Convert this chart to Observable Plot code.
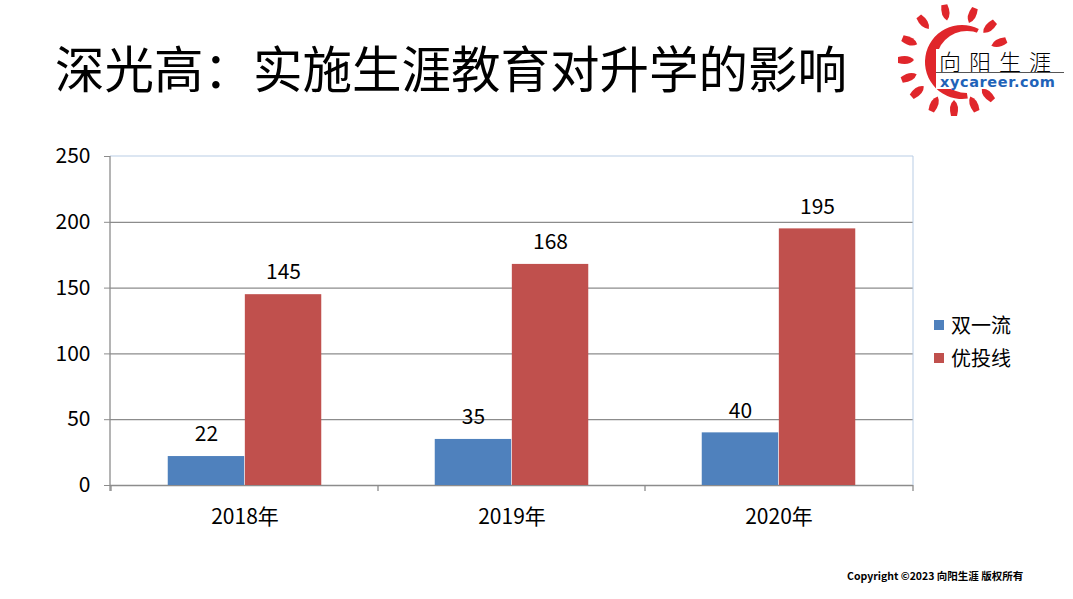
<!DOCTYPE html>
<html><head><meta charset="utf-8">
<script src="https://cdn.jsdelivr.net/npm/d3@7"></script>
<script src="https://cdn.jsdelivr.net/npm/@observablehq/plot@0.6"></script>
<style>
html,body{margin:0;padding:0;background:#fff;}
body{width:1073px;height:599px;overflow:hidden;position:relative;font-family:"Noto Sans CJK SC","Noto Sans",sans-serif;color:#000;}
#title{position:absolute;left:55px;top:42px;font-size:49.5px;line-height:49.5px;white-space:nowrap;}
#logo{position:absolute;left:0;top:0;}
#chart{position:absolute;left:0;top:140px;}
#legend{position:absolute;left:934px;top:308px;font-size:20px;line-height:33px;}
#legend .row{display:flex;align-items:center;}
#legend .sw{width:10px;height:10px;margin-right:7px;}
#copy{position:absolute;left:847px;top:569px;font-size:10.5px;line-height:14px;font-weight:bold;white-space:nowrap;}
</style></head>
<body>
<div id="title">深光高：实施生涯教育对升学的影响</div>
<svg id="logo" width="1073" height="120"></svg>
<div id="chart"></div>
<div id="legend"></div>
<div id="copy">Copyright ©2023 向阳生涯 版权所有</div>
<script>
const years = ["2018年", "2019年", "2020年"];
const seriesNames = ["双一流", "优投线"];
const shuangyiliu = [22, 35, 40];
const youtouxian = [145, 168, 195];
const yTicks = [0, 50, 100, 150, 200, 250];
const gridTicks = [0, 50, 100, 150, 200];
const colors = ["#4F81BD", "#C0504D"];

const data = years.flatMap((yr, i) => [
  {year: yr, series: seriesNames[0], value: shuangyiliu[i]},
  {year: yr, series: seriesNames[1], value: youtouxian[i]}
]);
const blue = data.filter(d => d.series === seriesNames[0]);
const red = data.filter(d => d.series === seriesNames[1]);

const W = 920, H = 395, ML = 110, MR = 7, MT = 16, MB = 50;
const bandW = (W - ML - MR) / years.length;
const barW = bandW * 0.288;

const frameMark = (index, scales, values, dims) => {
  const g = d3.create("svg:g");
  const x0 = dims.marginLeft, x1 = dims.width - dims.marginRight;
  const y0 = dims.marginTop, y1 = dims.height - dims.marginBottom;
  g.append("path").attr("d", `M${x0},${y0}H${x1}V${y1}`)
    .attr("fill", "none").attr("stroke", "#b9cde5").attr("stroke-width", 1);
  g.append("line").attr("x1", x0).attr("x2", x0).attr("y1", y0).attr("y2", y1 + 6)
    .attr("stroke", "#8c8c8c").attr("stroke-width", 1.3);
  const bounds = years.map(yr => scales.x(yr)).concat([x1]);
  bounds.forEach(b => {
    g.append("line").attr("x1", b).attr("x2", b).attr("y1", y1).attr("y2", y1 + 6)
      .attr("stroke", "#8c8c8c").attr("stroke-width", 1.3);
  });
  return g.node();
};

const chart = Plot.plot({
  width: W, height: H,
  marginLeft: ML, marginRight: MR, marginTop: MT, marginBottom: MB,
  style: {fontFamily: "'Noto Sans CJK SC', sans-serif", fontSize: "21px", color: "#000", background: "transparent"},
  x: {domain: years, padding: 0, label: null},
  y: {domain: [0, 250], label: null},
  color: {domain: seriesNames, range: colors},
  marks: [
    Plot.ruleY(gridTicks, {stroke: "#8c8c8c", strokeWidth: 1.3}),
    Plot.barY(blue, {x: "year", y: "value", fill: "series", insetLeft: bandW / 2 - barW, insetRight: bandW / 2}),
    Plot.barY(red, {x: "year", y: "value", fill: "series", insetLeft: bandW / 2, insetRight: bandW / 2 - barW}),
    Plot.text(blue, {x: "year", y: "value", text: d => String(d.value), dx: -barW / 2, dy: -22, fontSize: 21, fill: "#000"}),
    Plot.text(red, {x: "year", y: "value", text: d => String(d.value), dx: barW / 2, dy: -22, fontSize: 21, fill: "#000"}),
    frameMark,
    Plot.axisY({ticks: yTicks, tickSize: 6, tickPadding: 14, fontSize: 21, stroke: "#8c8c8c", fill: "#000", label: null}),
    Plot.axisX({tickSize: 0, tickPadding: 24, fontSize: 21, fill: "#000", label: null})
  ]
});
document.getElementById("chart").appendChild(chart);

// legend
const legend = document.getElementById("legend");
seriesNames.forEach((s, i) => {
  const row = document.createElement("div");
  row.className = "row";
  row.innerHTML = `<span class="sw" style="background:${colors[i]}"></span><span>${s}</span>`;
  legend.appendChild(row);
});

// logo (decorative)
const logo = d3.select("#logo");
const cx = 954, cy = 60;
const defs = logo.append("defs");
const mask = defs.append("mask").attr("id", "cres").attr("maskUnits", "userSpaceOnUse")
  .attr("x", 0).attr("y", 0).attr("width", 1073).attr("height", 120);
mask.append("rect").attr("x", 0).attr("y", 0).attr("width", 1073).attr("height", 120).attr("fill", "#fff");
mask.append("circle").attr("cx", 967).attr("cy", 62).attr("r", 31).attr("fill", "#000");
const rayAngles = [-21, -43, -68, -100, -129, -157, 180, 159, 139, 114, 90, 66, 46];
rayAngles.forEach(a => {
  const r = a * Math.PI / 180;
  const px = cx + 48 * Math.cos(r), py = cy + 48 * Math.sin(r);
  logo.append("path")
    .attr("d", `M-8,0 Q-3,-6 8,-3 L8,3 Q-3,6 -8,0 Z`)
    .attr("transform", `translate(${px},${py}) rotate(${a})`).attr("fill", "#e0262b");
});
logo.append("g").attr("mask", "url(#cres)")
  .append("path").attr("d", d3.arc()({innerRadius: 0, outerRadius: 37, startAngle: Math.PI * 0.95, endAngle: Math.PI * 2.15}))
  .attr("transform", `translate(${cx + 8},${cy + 2})`).attr("fill", "#e0262b");
logo.append("rect").attr("x", 936).attr("y", 49).attr("width", 130).attr("height", 40).attr("fill", "#fff");
logo.append("text").attr("x", 939).attr("y", 70).attr("font-size", 22).attr("letter-spacing", 8)
  .attr("font-family", "'Noto Sans CJK SC'").attr("font-weight", 300).text("向阳生涯");
logo.append("line").attr("x1", 936).attr("x2", 1064).attr("y1", 72.5).attr("y2", 72.5).attr("stroke", "#555").attr("stroke-width", 1);
logo.append("text").attr("x", 940).attr("y", 87).attr("font-size", 14.5).attr("letter-spacing", 0.6)
  .attr("font-family", "'DejaVu Sans'").attr("font-weight", "bold").attr("fill", "#1f63b8").text("xycareer.com");
</script>
</body></html>
